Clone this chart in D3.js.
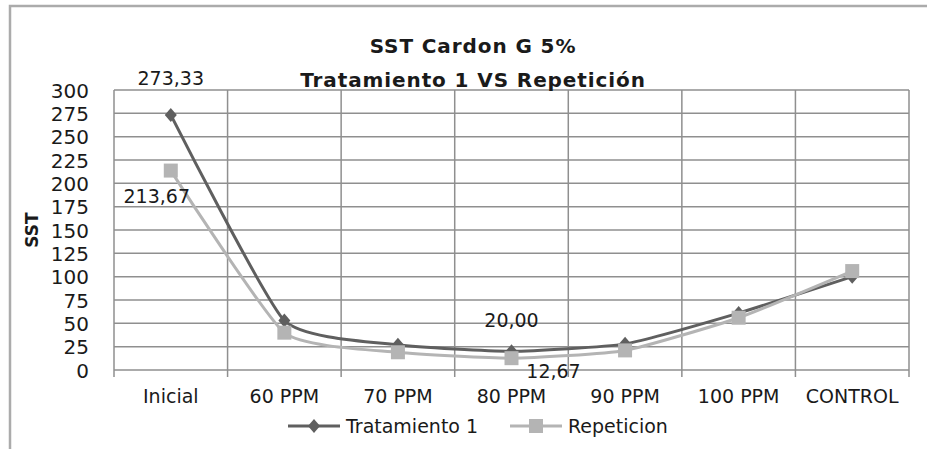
<!DOCTYPE html>
<html>
<head>
<meta charset="utf-8">
<script src="https://cdn.jsdelivr.net/npm/d3@7"></script>
<style>
  body { margin: 0; background: #fff; }
  svg { display: block; }
  text { font-family: 'DejaVu Sans', sans-serif; fill: #1a1a1a; }
</style>
</head>
<body>
<svg id="chart" width="927" height="449"></svg>
<script>
// data
const categories = ['Inicial', '60 PPM', '70 PPM', '80 PPM', '90 PPM', '100 PPM', 'CONTROL']
const tratamiento = [273.33, 53, 27, 20.0, 28, 61, 100]
const repeticion = [213.67, 40, 19, 12.67, 21, 56, 106]
const yTicks = [0, 25, 50, 75, 100, 125, 150, 175, 200, 225, 250, 275, 300]
// labels shown in the picture: [series, category index, text]
const pointLabels = [
  ['t', 0, '273,33'],
  ['r', 0, '213,67'],
  ['t', 3, '20,00'],
  ['r', 3, '12,67'],
]

const width = 927
const height = 449
const margin = { top: 90, right: 18, bottom: 79, left: 114 }

const svg = d3.select('#chart')

// outer chart border (only top and left visible)
svg.append('path')
  .attr('d', `M10,${height} L10,6 L${width},6`)
  .attr('fill', 'none')
  .attr('stroke', '#ababab')
  .attr('stroke-width', 2.5)

const x = d3.scaleBand()
  .domain(categories)
  .range([margin.left, width - margin.right])

const y = d3.scaleLinear()
  .domain([0, 300])
  .range([height - margin.bottom, margin.top])

const grid = svg.append('g').attr('id', 'grid')

// horizontal grid
grid.selectAll('line.h')
  .data(yTicks)
  .join('line')
  .attr('class', 'h')
  .attr('x1', margin.left)
  .attr('x2', width - margin.right)
  .attr('y1', (d) => y(d))
  .attr('y2', (d) => y(d))
  .attr('stroke', '#8f8f8f')
  .attr('stroke-width', 1.5)

// vertical grid on category boundaries, running a bit below the axis as ticks
const bounds = categories.map((c) => x(c)).concat([x.range()[1]])
grid.selectAll('line.v')
  .data(bounds)
  .join('line')
  .attr('class', 'v')
  .attr('x1', (d) => d)
  .attr('x2', (d) => d)
  .attr('y1', margin.top)
  .attr('y2', y(0) + 7)
  .attr('stroke', '#8f8f8f')
  .attr('stroke-width', 1.5)

// y axis labels
const yAxis = svg.append('g')
  .attr('transform', `translate(${margin.left},0)`)
  .call(d3.axisLeft(y).tickValues(yTicks).tickSize(0).tickPadding(25))
yAxis.select('.domain').remove()
yAxis.selectAll('text')
  .attr('font-family', 'DejaVu Sans')
  .attr('font-size', 20)
  .attr('fill', '#1a1a1a')
  .attr('dy', '0.36em')

// x axis labels
const xAxis = svg.append('g')
  .attr('transform', `translate(0,${y(0)})`)
  .call(d3.axisBottom(x).tickSize(0).tickPadding(20))
xAxis.select('.domain').remove()
xAxis.selectAll('text')
  .attr('font-family', 'DejaVu Sans')
  .attr('font-size', 19)
  .attr('fill', '#1a1a1a')

// y axis title
svg.append('text')
  .attr('transform', `translate(38,230) rotate(-90)`)
  .attr('text-anchor', 'middle')
  .attr('font-size', 17)
  .attr('font-weight', 'bold')
  .text('SST')

// chart titles
svg.append('text')
  .attr('x', 473)
  .attr('y', 53)
  .attr('text-anchor', 'middle')
  .attr('font-size', 20)
  .attr('font-weight', 'bold')
  .attr('letter-spacing', 0.9)
  .text('SST Cardon G 5%')

svg.append('text')
  .attr('x', 473)
  .attr('y', 87)
  .attr('text-anchor', 'middle')
  .attr('font-size', 20)
  .attr('font-weight', 'bold')
  .attr('letter-spacing', 0.9)
  .text('Tratamiento 1 VS Repetición')

const cx = (i) => x(categories[i]) + x.bandwidth() / 2

// smoothed line like the spreadsheet's "smooth line" option
const line = d3.line()
  .x((d, i) => cx(i))
  .y((d) => y(d))
  .curve(d3.curveCardinal.tension(0.5))

const seriesDefs = [
  { key: 't', name: 'Tratamiento 1', values: tratamiento, color: '#5f5f5f', marker: 'diamond' },
  { key: 'r', name: 'Repeticion', values: repeticion, color: '#b4b4b4', marker: 'square' },
]

const markerPath = {
  diamond: 'M0,-7 L6,0 L0,7 L-6,0 Z',
  square: 'M-7,-7 L7,-7 L7,7 L-7,7 Z',
}

seriesDefs.forEach((s) => {
  const g = svg.append('g').attr('id', s.key)
  g.append('path')
    .attr('d', line(s.values))
    .attr('fill', 'none')
    .attr('stroke', s.color)
    .attr('stroke-width', 3)
  g.selectAll('path.m')
    .data(s.values)
    .join('path')
    .attr('class', 'm')
    .attr('d', markerPath[s.marker])
    .attr('transform', (d, i) => `translate(${cx(i)},${y(d)})`)
    .attr('fill', s.color)
})

// point labels
const labelOffsets = {
  '273,33': [0, -30],
  '213,67': [-14, 32],
  '20,00': [0, -24],
  '12,67': [42, 20],
}
svg.selectAll('text.pl')
  .data(pointLabels)
  .join('text')
  .attr('class', 'pl')
  .attr('text-anchor', 'middle')
  .attr('font-size', 19)
  .attr('x', (d) => cx(d[1]) + labelOffsets[d[2]][0])
  .attr('y', (d) => {
    const v = d[0] === 't' ? tratamiento[d[1]] : repeticion[d[1]]
    return y(v) + labelOffsets[d[2]][1]
  })
  .text((d) => d[2])

// legend
const legend = svg.append('g').attr('id', 'legend')
const legendX = [288, 510]
seriesDefs.forEach((s, i) => {
  const lg = legend.append('g').attr('transform', `translate(${legendX[i]},426)`)
  lg.append('line')
    .attr('x1', 0)
    .attr('x2', 52)
    .attr('stroke', s.color)
    .attr('stroke-width', 3)
  lg.append('path')
    .attr('d', markerPath[s.marker])
    .attr('transform', 'translate(26,0)')
    .attr('fill', s.color)
  lg.append('text')
    .attr('x', 58)
    .attr('y', 7)
    .attr('font-size', 19)
    .text(s.name)
})
</script>
</body>
</html>
